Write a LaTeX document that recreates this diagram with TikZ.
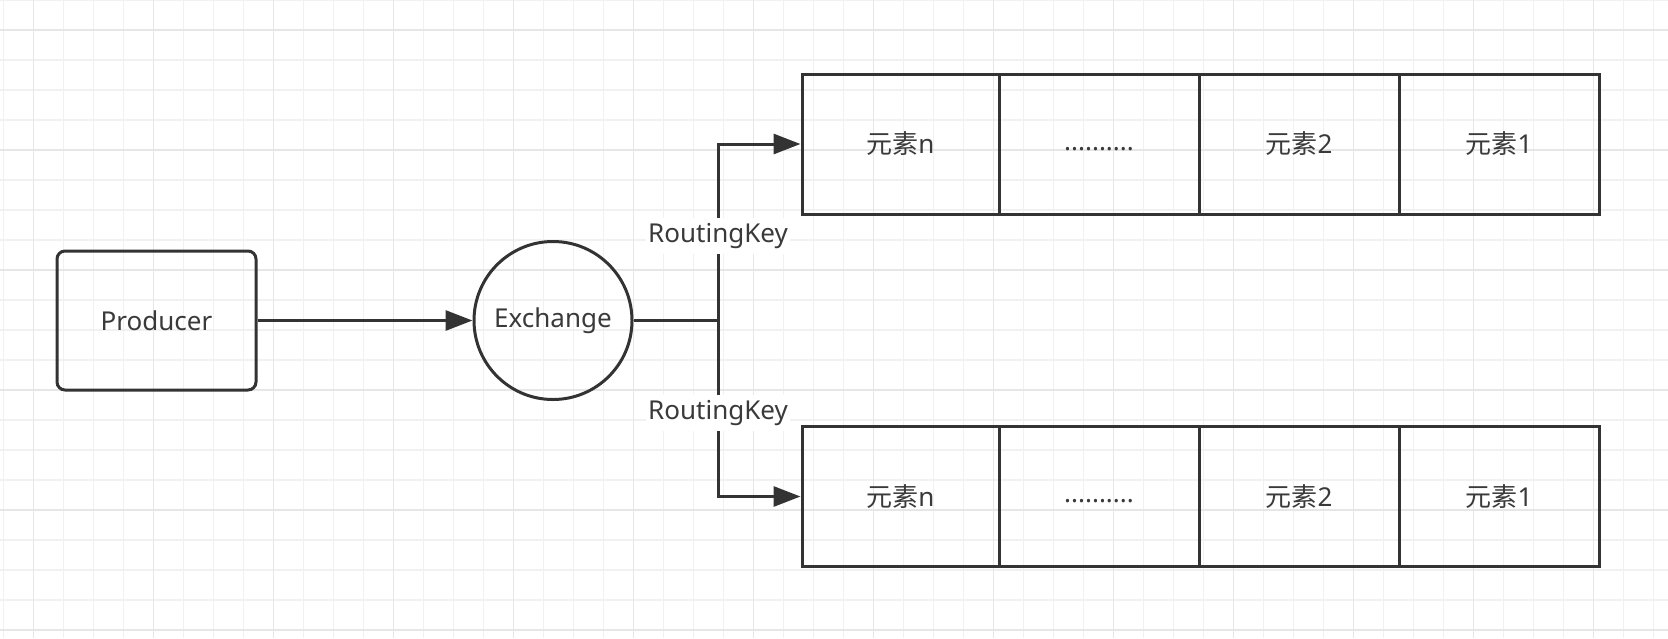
\documentclass[tikz,border=0pt]{standalone}
\usepackage{fontspec}
\setmainfont{Noto Sans}
\newfontfamily\cjk{Noto Sans CJK SC}
\usetikzlibrary{arrows.meta,calc}
\definecolor{ink}{HTML}{333333}
\definecolor{txtc}{HTML}{3A3A3A}
\definecolor{gridminor}{HTML}{F1F1F1}
\definecolor{gridmajor}{HTML}{E6E6E6}
\tikzset{
  txt/.style={text=txtc,font=\fontsize{26}{30}\selectfont},
  cell/.style={draw=ink,line width=3pt,rectangle,minimum height=140pt,inner sep=0pt,txt},
  prodbox/.style={draw=ink,line width=3pt,rounded corners=8pt,minimum width=199pt,minimum height=139pt,inner sep=0pt,txt},
  exbox/.style={draw=ink,line width=3pt,circle,minimum size=158pt,inner sep=0pt,txt},
  conn/.style={draw=ink,line width=3pt},
  arr/.style={conn,-{Triangle[length=27pt,width=20pt]}},
  rk/.style={txt,fill=white,inner sep=2pt,minimum height=36pt}
}
\begin{document}
\begin{tikzpicture}[x=1pt,y=-1pt]
\useasboundingbox (0,0) rectangle (1668,638);
\fill[white] (0,0) rectangle (1668,638);
% grid
\foreach \i in {0,...,55} {\draw[gridminor,line width=1.5pt] ({3.3+30*\i},0) -- ({3.3+30*\i},638);}
\foreach \j in {0,...,21} {\draw[gridminor,line width=1.5pt] (0,{30*\j}) -- (1668,{30*\j});}
\foreach \i in {0,...,13} {\draw[gridmajor,line width=1.5pt] ({33.3+120*\i},0) -- ({33.3+120*\i},638);}
\foreach \j in {0,...,5} {\draw[gridmajor,line width=1.5pt] (0,{30+120*\j}) -- (1668,{30+120*\j});}
% nodes
\node[prodbox] (prod) at (156.5,320.5) {Producer};
\node[exbox] (ex) at (553,320.5) {Exchange};
% top queue
\node[cell,minimum width=197pt] (a1) at (900.5,144) {{\cjk 元素}n};
\node[cell,minimum width=200pt] (a2) at (1099,144) {\vphantom{Ag}..........};
\node[cell,minimum width=200pt] (a3) at (1299,144) {{\cjk 元素}2};
\node[cell,minimum width=200pt] (a4) at (1499,144) {{\cjk 元素}1};
% bottom queue
\node[cell,minimum width=197pt] (b1) at (900.5,496.5) {{\cjk 元素}n};
\node[cell,minimum width=200pt] (b2) at (1099,496.5) {\vphantom{Ag}..........};
\node[cell,minimum width=200pt] (b3) at (1299,496.5) {{\cjk 元素}2};
\node[cell,minimum width=200pt] (b4) at (1499,496.5) {{\cjk 元素}1};
% connectors
\coordinate (J) at (718,320.5);
\draw[arr] (prod) -- (ex);
\draw[conn] (ex.east) -- (J);
\draw[arr] (J) |- (a1.west);
\draw[arr] (J) |- (b1.west);
\node[rk] (rk1) at (718,236) {RoutingKey};
\node[rk] (rk2) at (718,413) {RoutingKey};
\end{tikzpicture}
\end{document}
